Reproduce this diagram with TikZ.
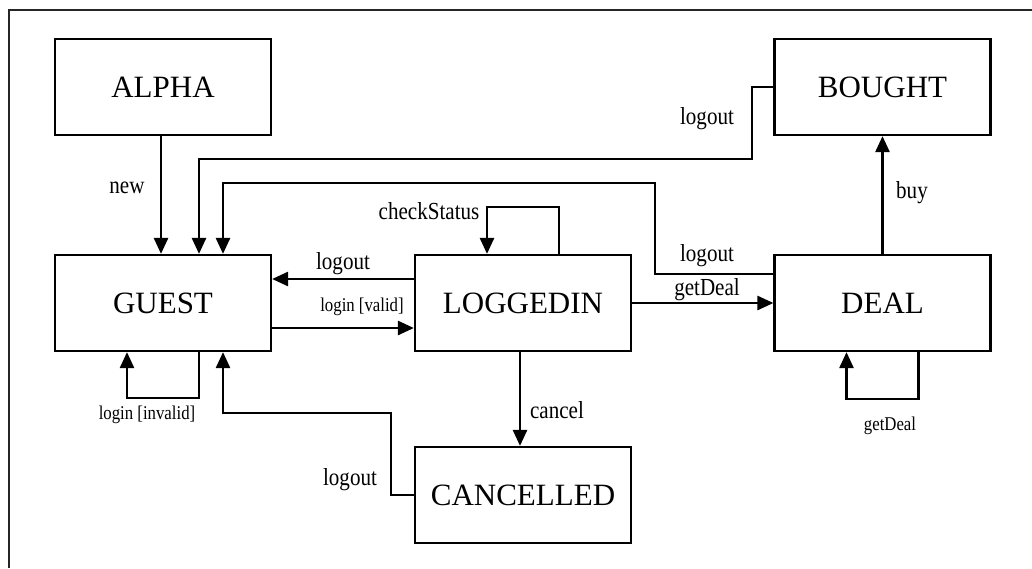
\documentclass[tikz,border=0pt]{standalone}
\usepackage{fontspec}
\setmainfont{Liberation Serif}
\newfontfamily\lblfont[FakeStretch=0.86]{Liberation Serif}
\usetikzlibrary{positioning,arrows.meta}

\tikzset{
  state/.style = {draw, line width=2.2pt, minimum width=216pt, minimum height=96pt,
                  inner sep=0pt, font=\fontsize{31}{31}\selectfont},
  trans/.style = {line width=2.6pt, -{Triangle[length=16pt,width=14pt]}},
  lbl/.style = {inner sep=1pt, font=\lblfont\fontsize{24.5}{24.5}\selectfont},
  smalllbl/.style = {inner sep=1pt, font=\lblfont\fontsize{19.5}{19.5}\selectfont}
}

\begin{document}
\begin{tikzpicture}[x=1pt, y=-1pt]
      \useasboundingbox (0,0) rectangle (1032,568);
      \draw[line width=1.3pt, black!85] (9,568) -- (9,10) -- (1032,10);
      \node (alpha) [state] at (163,87) {ALPHA};
      \node (bought) [state] at (882.5,87) {BOUGHT};
      \node (guest) [state] at (163,303) {GUEST};
      \node (loggedin) [state] at (523,303) {LOGGEDIN};
      \node (deal) [state] at (882.5,303) {DEAL};
      \node (cancelled) [state] at (523,495) {CANCELLED};
      \coordinate (b1) at (752,159);
      \coordinate (d1) at (655,183);
      \coordinate (c1) at (523,207);
      \coordinate (g1) at (163,398);
      \coordinate (k1) at (391,413);
      \coordinate (e1) at (882.5,399);
      \draw[trans] ([xshift=-2pt]alpha.south) -- ([xshift=-2pt]guest.north);
      \draw[trans] (bought.west) -| (b1) -| ([xshift=36pt]guest.north);
      \draw[trans] ([yshift=29pt]deal.west) -| (d1) -| ([xshift=60pt]guest.north);
      \draw[trans] ([xshift=36pt]loggedin.north) |- (c1) -| ([xshift=-36pt]loggedin.north);
      \draw[trans] ([yshift=24pt]loggedin.west) -- ([yshift=24pt]guest.east);
      \draw[trans] ([yshift=-25pt]guest.east) -- ([yshift=-25pt]loggedin.west);
      \draw[trans] ([xshift=36pt]guest.south) |- (g1) -| ([xshift=-36pt]guest.south);
      \draw[trans] (cancelled.west) -| (k1) -| ([xshift=60pt]guest.south);
      \draw[trans] ([xshift=-3pt]loggedin.south) -- ([xshift=-3pt]cancelled.north);
      \draw[trans] (loggedin.east) -- (deal.west);
      \draw[trans] (deal.north) -- (bought.south);
      \draw[trans] ([xshift=36pt]deal.south) |- (e1) -| ([xshift=-36pt]deal.south);
      \node (newlbl) [lbl] at (127,188) {new};
      \node (checklbl) [lbl] at (429,211) {checkStatus};
      \node (outlbl1) [lbl] at (343,264) {logout};
      \node (validlbl) [smalllbl] at (362,307) {login [valid]};
      \node (invalidlbl) [smalllbl] at (147,415) {login [invalid]};
      \node (outlbl2) [lbl] at (350,480) {logout};
      \node (cancellbl) [lbl] at (557,410) {cancel};
      \node (deallbl1) [lbl] at (707,290) {getDeal};
      \node (outlbl3) [lbl] at (707,256) {logout};
      \node (outlbl4) [lbl] at (707,119) {logout};
      \node (buylbl) [lbl] at (912,193) {buy};
      \node (deallbl2) [smalllbl] at (890,426) {getDeal};
\end{tikzpicture}
\end{document}
